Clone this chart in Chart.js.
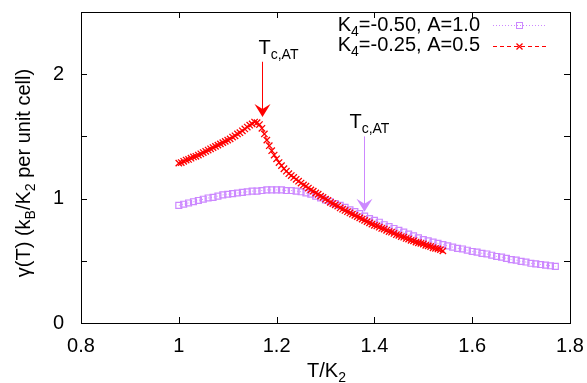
<!DOCTYPE html>
<html>
<head>
<meta charset="utf-8">
<script src="https://cdn.jsdelivr.net/npm/chart.js@4.4.1/dist/chart.umd.min.js"></script>
<style>
html, body { margin: 0; padding: 0; background: #fff; }
#c { display: block; }
</style>
</head>
<body>
<canvas id="c" width="587" height="383"></canvas>
<script>
// K4=-0.50, A=1.0  (purple squares)
var purpleT = [1.00,1.01,1.02,1.03,1.04,1.05,1.06,1.07,1.08,1.09,
  1.10,1.11,1.12,1.13,1.14,1.15,1.16,1.17,1.18,1.19,
  1.20,1.21,1.22,1.23,1.24,1.25,1.26,1.27,1.28,1.29,
  1.30,1.31,1.32,1.33,1.34,1.35,1.36,1.37,1.38,1.39,
  1.40,1.41,1.42,1.43,1.44,1.45,1.46,1.47,1.48,1.49,
  1.50,1.51,1.52,1.53,1.54,1.55,1.56,1.57,1.58,1.59,
  1.60,1.61,1.62,1.63,1.64,1.65,1.66,1.67,1.68,1.69,
  1.70,1.71,1.72,1.73,1.74,1.75,1.76,1.77];
var purpleGamma = [0.945,0.955,0.965,0.975,0.985,0.995,1.005,1.01,1.02,1.03,
  1.035,1.04,1.045,1.05,1.055,1.06,1.06,1.065,1.07,1.07,
  1.07,1.07,1.065,1.065,1.06,1.055,1.045,1.035,1.02,1.005,
  0.99,0.975,0.96,0.945,0.93,0.91,0.895,0.88,0.86,0.84,
  0.825,0.81,0.79,0.775,0.76,0.745,0.73,0.715,0.70,0.685,
  0.67,0.66,0.65,0.64,0.63,0.62,0.61,0.60,0.595,0.585,
  0.575,0.57,0.56,0.555,0.545,0.535,0.53,0.52,0.51,0.505,
  0.495,0.49,0.48,0.475,0.47,0.465,0.46,0.455];

// K4=-0.25, A=0.5  (red crosses)
var redT = [1.000,1.005,1.010,1.015,1.020,1.025,1.030,1.035,1.040,1.045,
  1.050,1.055,1.060,1.065,1.070,1.075,1.080,1.085,1.090,1.095,
  1.100,1.105,1.110,1.115,1.120,1.125,1.130,1.135,1.140,1.145,
  1.150,1.155,1.160,1.165,1.170,1.175,1.180,1.185,1.190,1.195,
  1.200,1.205,1.210,1.215,1.220,1.225,1.230,1.235,1.240,1.245,
  1.250,1.255,1.260,1.265,1.270,1.275,1.280,1.285,1.290,1.295,
  1.300,1.305,1.310,1.315,1.320,1.325,1.330,1.335,1.340,1.345,
  1.350,1.355,1.360,1.365,1.370,1.375,1.380,1.385,1.390,1.395,
  1.400,1.405,1.410,1.415,1.420,1.425,1.430,1.435,1.440,1.445,
  1.450,1.455,1.460,1.465,1.470,1.475,1.480,1.485,1.490,1.495,
  1.500,1.505,1.510,1.515,1.520,1.525,1.530,1.535,1.540];
var redGamma = [1.285,1.29,1.30,1.31,1.315,1.325,1.335,1.34,1.35,1.36,
  1.37,1.38,1.39,1.40,1.41,1.42,1.43,1.44,1.45,1.46,
  1.47,1.48,1.495,1.505,1.52,1.53,1.545,1.56,1.575,1.59,
  1.60,1.615,1.61,1.595,1.565,1.52,1.47,1.425,1.385,1.35,
  1.32,1.29,1.265,1.24,1.22,1.20,1.185,1.17,1.155,1.14,
  1.125,1.11,1.10,1.085,1.07,1.06,1.045,1.035,1.02,1.01,
  0.995,0.985,0.97,0.96,0.95,0.94,0.925,0.915,0.905,0.895,
  0.885,0.875,0.865,0.855,0.845,0.835,0.825,0.815,0.805,0.795,
  0.785,0.78,0.77,0.76,0.755,0.745,0.735,0.73,0.72,0.71,
  0.705,0.695,0.69,0.68,0.675,0.665,0.66,0.65,0.645,0.64,
  0.635,0.625,0.62,0.615,0.605,0.60,0.595,0.59,0.58];

var legendLabels = [
  [{t: 'K'}, {t: '4', sub: true}, {t: '=-0.50, A=1.0'}],
  [{t: 'K'}, {t: '4', sub: true}, {t: '=-0.25, A=0.5'}]
];
// arrows: T position, start gamma, tip gamma, label position
var arrows = [
  {T: 1.171, from: 2.10, to: 1.655, color: '#ff0000', labelT: 1.163, labelY: 2.16},
  {T: 1.378, from: 1.50, to: 0.895, color: '#cc88ff', labelT: 1.349, labelY: 1.565}
];

var PURPLE = '#cc88ff';
var RED = '#ff0000';
var FONT = '"Liberation Sans", Arial, sans-serif';

var toPoints = function(xs, ys){
    var pts = [];
    for (var i = 0; i < xs.length; i++) {
        pts.push({x: xs[i], y: ys[i]});
    }
    return pts;
}

// text with subscripts; align = left|right|center
var drawRich = function(ctx, parts, x, y, align){
    var w = 0;
    for (var i = 0; i < parts.length; i++) {
        ctx.font = (parts[i].sub ? '14px ' : '20px ') + FONT;
        w += ctx.measureText(parts[i].t).width;
    }
    if (align == 'right') x -= w;
    if (align == 'center') x -= w / 2;
    ctx.textAlign = 'left';
    ctx.textBaseline = 'alphabetic';
    for (var i = 0; i < parts.length; i++) {
        ctx.font = (parts[i].sub ? '14px ' : '20px ') + FONT;
        ctx.fillText(parts[i].t, x, parts[i].sub ? y + 5 : y);
        x += ctx.measureText(parts[i].t).width;
    }
}

var drawSquare = function(ctx, x, y){
    ctx.strokeStyle = PURPLE;
    ctx.lineWidth = 1;
    ctx.setLineDash([]);
    ctx.strokeRect(x - 3, y - 3, 6, 6);
}
var drawCross = function(ctx, x, y){
    ctx.strokeStyle = RED;
    ctx.lineWidth = 1.3;
    ctx.setLineDash([]);
    ctx.beginPath();
    ctx.moveTo(x - 3, y - 3); ctx.lineTo(x + 3, y + 3);
    ctx.moveTo(x + 3, y - 3); ctx.lineTo(x - 3, y + 3);
    ctx.stroke();
}

var decorPlugin = {
    id: 'decor',
    afterDraw: function(chart){
        var ctx = chart.ctx;
        var a = chart.chartArea;
        var xs = chart.scales.x, ys = chart.scales.y;
        ctx.save();

        // frame
        ctx.strokeStyle = '#000';
        ctx.lineWidth = 1;
        ctx.strokeRect(Math.round(a.left) + 0.5, Math.round(a.top) + 0.5,
            Math.round(a.right - a.left), Math.round(a.bottom - a.top));

        // inward ticks, mirrored
        ctx.beginPath();
        xs.ticks.forEach(function(t){
            var px = Math.round(xs.getPixelForValue(t.value)) + 0.5;
            ctx.moveTo(px, a.bottom); ctx.lineTo(px, a.bottom - 6);
            ctx.moveTo(px, a.top); ctx.lineTo(px, a.top + 6);
        });
        ys.ticks.forEach(function(t){
            var py = Math.round(ys.getPixelForValue(t.value)) + 0.5;
            ctx.moveTo(a.left, py); ctx.lineTo(a.left + 6, py);
            ctx.moveTo(a.right, py); ctx.lineTo(a.right - 6, py);
        });
        ctx.stroke();

        // arrows + labels
        arrows.forEach(function(ar){
            var px = Math.round(xs.getPixelForValue(ar.T)) + 0.5;
            var y0 = ys.getPixelForValue(ar.from);
            var y1 = ys.getPixelForValue(ar.to);
            ctx.strokeStyle = ar.color;
            ctx.fillStyle = ar.color;
            ctx.lineWidth = 1;
            ctx.beginPath();
            ctx.moveTo(px, y0); ctx.lineTo(px, y1 - 4);
            ctx.stroke();
            ctx.beginPath();
            ctx.moveTo(px, y1);
            ctx.lineTo(px - 8, y1 - 13);
            ctx.lineTo(px, y1 - 8);
            ctx.lineTo(px + 8, y1 - 13);
            ctx.closePath();
            ctx.fill();
            ctx.fillStyle = '#000';
            drawRich(ctx, [{t: 'T'}, {t: 'c,AT', sub: true}],
                xs.getPixelForValue(ar.labelT), ys.getPixelForValue(ar.labelY), 'left');
        });

        // key
        ctx.fillStyle = '#000';
        drawRich(ctx, legendLabels[0], 480, 31, 'right');
        drawRich(ctx, legendLabels[1], 480, 51, 'right');
        ctx.lineWidth = 1;
        ctx.strokeStyle = PURPLE;
        ctx.setLineDash([1, 2]);
        ctx.beginPath(); ctx.moveTo(493, 25.5); ctx.lineTo(546, 25.5); ctx.stroke();
        drawSquare(ctx, 519.5, 25.5);
        ctx.strokeStyle = RED;
        ctx.setLineDash([4, 3]);
        ctx.beginPath(); ctx.moveTo(493, 46.5); ctx.lineTo(546, 46.5); ctx.stroke();
        drawCross(ctx, 519.5, 46.5);
        ctx.setLineDash([]);

        // axis titles
        ctx.fillStyle = '#000';
        drawRich(ctx, [{t: 'T/K'}, {t: '2', sub: true}], (a.left + a.right) / 2 + 1, 377, 'center');
        ctx.translate(30, 173);
        ctx.rotate(-Math.PI / 2);
        drawRich(ctx, [{t: 'γ(T) (k'}, {t: 'B', sub: true}, {t: '/K'}, {t: '2', sub: true},
            {t: ' per unit cell)'}], 0, 0, 'center');
        ctx.restore();
    }
};

var config = {
    type: 'scatter',
    data: {
        datasets: [{
            label: 'K4=-0.25, A=0.5',
            data: toPoints(redT, redGamma),
            showLine: true,
            borderColor: RED,
            borderWidth: 1,
            borderDash: [4, 3],
            pointStyle: 'crossRot',
            pointRadius: 4.5,
            pointBorderWidth: 1.3,
            pointBorderColor: RED,
            pointBackgroundColor: RED
        }, {
            label: 'K4=-0.50, A=1.0',
            data: toPoints(purpleT, purpleGamma),
            showLine: true,
            borderColor: PURPLE,
            borderWidth: 1,
            borderDash: [1, 2],
            pointStyle: 'rect',
            pointRadius: 4.2,
            pointBorderWidth: 1.2,
            pointBorderColor: PURPLE,
            pointBackgroundColor: 'rgba(0,0,0,0)'
        }]
    },
    options: {
        responsive: false,
        animation: false,
        events: [],
        layout: {padding: {left: 0, right: 17, top: 12, bottom: 0}},
        plugins: {legend: {display: false}, tooltip: {enabled: false}},
        scales: {
            x: {
                type: 'linear', min: 0.8, max: 1.8,
                grid: {display: false}, border: {display: false},
                ticks: {stepSize: 0.2, color: '#000', padding: 3,
                    font: {family: FONT, size: 20},
                    callback: function(v){ return Math.round(v * 10) / 10; }},
                afterFit: function(s){ s.height = 60; s.paddingLeft = 0; s.paddingRight = 0; }
            },
            y: {
                min: 0, max: 2.5,
                grid: {display: false}, border: {display: false},
                ticks: {stepSize: 0.5, color: '#000', padding: 9,
                    font: {family: FONT, size: 20},
                    callback: function(v){ return Number.isInteger(v) ? v : ''; }},
                afterFit: function(s){ s.width = 81; s.paddingTop = 0; s.paddingBottom = 0; }
            }
        }
    },
    plugins: [decorPlugin]
};

new Chart(document.getElementById('c'), config);
</script>
</body>
</html>
